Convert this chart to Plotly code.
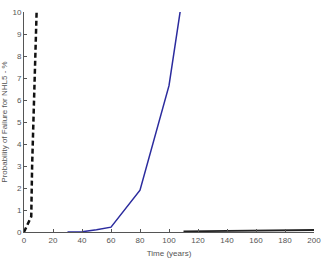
import plotly.graph_objects as go

dash_x = [0, 5, 5.6, 6.4, 7.5, 8.7]
dash_y = [0, 0.7, 3, 5, 7.5, 10]
blue_x = [30, 40, 50, 60, 80, 100, 120]
blue_y = [0, 0.01, 0.1, 0.22, 1.9, 6.65, 15.4]
solid_x = [110, 120, 140, 160, 165, 175, 180, 200]
solid_y = [0.03, 0.04, 0.05, 0.05, 0.07, 0.09, 0.09, 0.09]
x_ticks = list(range(0, 201, 20))
y_ticks = list(range(0, 11))

fig = go.Figure()
fig.add_trace(go.Scatter(x=solid_x, y=solid_y, mode="lines",
                         line=dict(color="#222222", width=1.8), hoverinfo="skip"))
fig.add_trace(go.Scatter(x=blue_x, y=blue_y, mode="lines",
                         line=dict(color="#2b2b9e", width=1.5), hoverinfo="skip"))
fig.add_trace(go.Scatter(x=dash_x, y=dash_y, mode="lines",
                         line=dict(color="#111111", width=2.5, dash="5px,3px"), hoverinfo="skip"))

fig.update_layout(
    width=322, height=263,
    margin=dict(l=24, r=8, t=12, b=31),
    paper_bgcolor="white", plot_bgcolor="white",
    showlegend=False,
    font=dict(family="Liberation Sans, Arial, sans-serif", size=8, color="#555555"),
)
fig.update_xaxes(range=[0, 200], tickvals=x_ticks, ticks="inside", ticklen=3,
                 tickcolor="#555555", showline=True, linecolor="#555555", linewidth=1,
                 showgrid=False, zeroline=False, automargin=False,
                 title=dict(text="Time (years)", font=dict(size=8), standoff=6),
                 tickfont=dict(size=8))
fig.update_yaxes(range=[0, 10], tickvals=y_ticks, ticks="inside", ticklen=3,
                 tickcolor="#555555", showline=True, linecolor="#555555", linewidth=1,
                 showgrid=False, zeroline=False, automargin=False,
                 title=dict(text="Probability of Failure for NHL5 - %", font=dict(size=8), standoff=6),
                 tickfont=dict(size=8))
fig.write_html("out.html")
